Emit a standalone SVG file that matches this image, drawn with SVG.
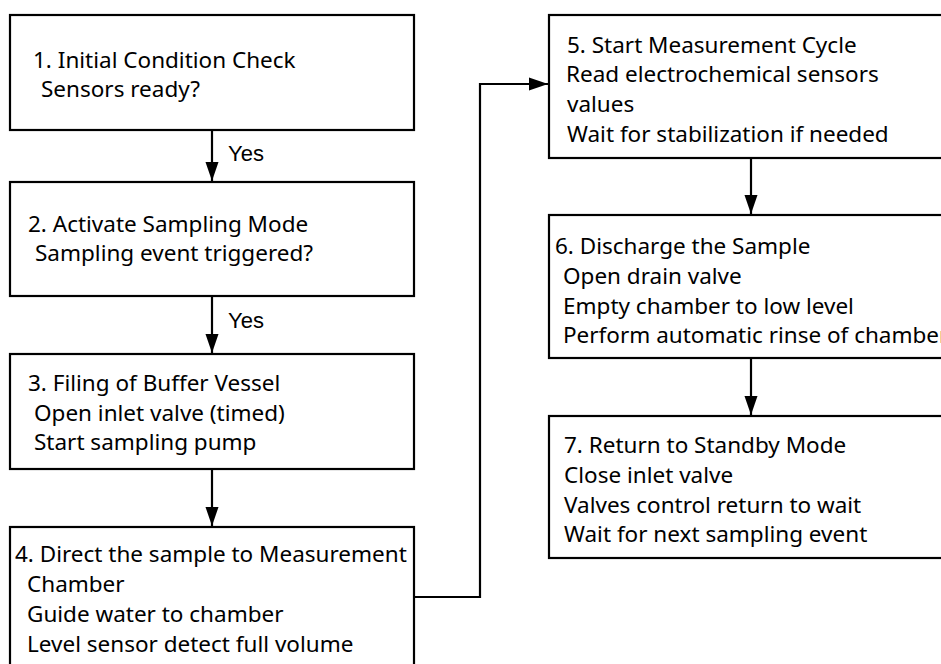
<svg xmlns="http://www.w3.org/2000/svg" width="941" height="664" viewBox="0 0 941 664">
<style>
.box{fill:#fff;stroke:#000;stroke-width:2.2}
.t{font-family:"Noto Sans","Liberation Sans",sans-serif;font-size:22.5px;fill:#000}
.y{font-family:"Liberation Sans",Arial,sans-serif;font-size:22px;fill:#000}
.c{fill:none;stroke:#000;stroke-width:2.2}
</style>
<defs>
<marker id="ah" markerWidth="19" markerHeight="14" refX="19" refY="7" orient="auto" markerUnits="userSpaceOnUse" viewBox="0 0 19 14">
<path d="M0,0.5 L19,7 L0,13.5 Z" fill="#000"/>
</marker>
</defs>
<rect width="941" height="664" fill="#fff"/>
<g id="n1"><rect class="box" x="10" y="15" width="404" height="115"/>
<text class="t" x="33" y="68">1. Initial Condition Check</text>
<text class="t" x="41" y="97">Sensors ready?</text></g>
<g id="n2"><rect class="box" x="10" y="182" width="404" height="114"/>
<text class="t" x="28" y="232">2. Activate Sampling Mode</text>
<text class="t" x="35" y="261">Sampling event triggered?</text></g>
<g id="n3"><rect class="box" x="10" y="354" width="404" height="115"/>
<text class="t" x="28" y="391">3. Filing of Buffer Vessel</text>
<text class="t" x="34" y="421">Open inlet valve (timed)</text>
<text class="t" x="34" y="450">Start sampling pump</text></g>
<g id="n4"><rect class="box" x="10" y="527" width="404" height="150"/>
<text class="t" x="15" y="562">4. Direct the sample to Measurement</text>
<text class="t" x="27" y="592">Chamber</text>
<text class="t" x="27" y="622">Guide water to chamber</text>
<text class="t" x="27" y="652">Level sensor detect full volume</text></g>
<g id="n5"><rect class="box" x="549" y="15" width="410" height="143"/>
<text class="t" x="567" y="53">5. Start Measurement Cycle</text>
<text class="t" x="566" y="82">Read electrochemical sensors</text>
<text class="t" x="567" y="112">values</text>
<text class="t" x="567" y="142">Wait for stabilization if needed</text></g>
<g id="n6"><rect class="box" x="549" y="215" width="410" height="143"/>
<text class="t" x="555" y="254">6. Discharge the Sample</text>
<text class="t" x="563" y="284">Open drain valve</text>
<text class="t" x="563" y="314">Empty chamber to low level</text>
<text class="t" x="563" y="343">Perform automatic rinse of chamber</text></g>
<g id="n7"><rect class="box" x="549" y="416" width="410" height="142"/>
<text class="t" x="564" y="453">7. Return to Standby Mode</text>
<text class="t" x="564" y="483">Close inlet valve</text>
<text class="t" x="564" y="513">Valves control return to wait</text>
<text class="t" x="564" y="542">Wait for next sampling event</text></g>
<g id="connectors">
<line class="c" x1="212" y1="130" x2="212" y2="181" marker-end="url(#ah)"/>
<text class="y" x="228" y="161">Yes</text>
<line class="c" x1="212" y1="296" x2="212" y2="353" marker-end="url(#ah)"/>
<text class="y" x="228" y="328">Yes</text>
<line class="c" x1="212" y1="469" x2="212" y2="526" marker-end="url(#ah)"/>
<polyline class="c" points="414,597 480,597 480,84 548,84" marker-end="url(#ah)"/>
<line class="c" x1="751" y1="158" x2="751" y2="214" marker-end="url(#ah)"/>
<line class="c" x1="751" y1="358" x2="751" y2="415" marker-end="url(#ah)"/>
</g>
</svg>
